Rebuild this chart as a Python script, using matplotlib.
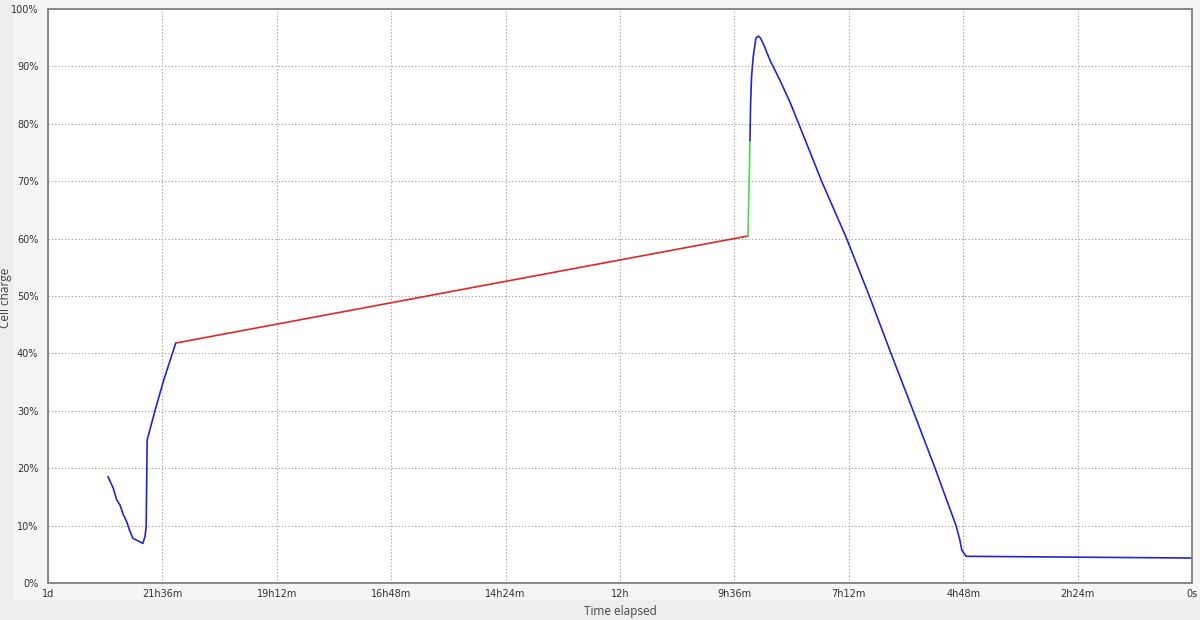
import matplotlib.pyplot as plt
from matplotlib.patches import Rectangle

# time before now (hours) and cell charge (%) for each segment
discharge1_h = [22.74, 22.63, 22.56, 22.49, 22.42, 22.35, 22.29, 22.22, 22.01, 21.965, 21.94, 21.92,
                21.75, 21.57, 21.32]
discharge1_pct = [18.5, 16.5, 14.5, 13.6, 11.9, 10.7, 9.2, 7.8, 6.9, 8.1, 9.8, 24.9,
                  30.2, 35.4, 41.8]

sleep_h = [21.32, 9.315]
sleep_pct = [41.8, 60.45]

charge_h = [9.315, 9.273]
charge_pct = [60.45, 77.1]

discharge2_h = [9.273, 9.26, 9.24, 9.205, 9.15, 9.10, 9.05, 8.98, 8.855, 8.645, 8.435, 8.25,
                7.77, 7.245, 6.77, 6.315, 5.85, 5.39, 4.95, 4.87, 4.83, 4.74, 0.0]
discharge2_pct = [77.1, 83.6, 88.2, 91.7, 94.9, 95.3, 94.9, 93.7, 91.1, 87.6, 83.8, 80.0,
                  70.0, 60.0, 50.0, 40.0, 30.0, 20.0, 10.0, 7.5, 5.75, 4.65, 4.35]

x_ticks = [24, 21.6, 19.2, 16.8, 14.4, 12, 9.6, 7.2, 4.8, 2.4, 0]
x_labels = ['1d', '21h36m', '19h12m', '16h48m', '14h24m', '12h', '9h36m', '7h12m', '4h48m', '2h24m', '0s']
y_ticks = [0, 10, 20, 30, 40, 50, 60, 70, 80, 90, 100]
y_labels = ['{}%'.format(v) for v in y_ticks]

fig = plt.figure(figsize=(12, 6.2), dpi=100, facecolor='#eeeeee')
# lighter panel behind the plot
fig.patches.append(Rectangle((14 / 1200, 20 / 620), 1 - 14 / 1200, 1 - 20 / 620,
                             transform=fig.transFigure, facecolor='#f5f5f5', edgecolor='none', zorder=-10))
ax = fig.add_axes([48 / 1200, 1 - 583 / 620, (1192 - 48) / 1200, (583 - 9) / 620])
ax.set_facecolor('white')

ax.plot(discharge1_h, discharge1_pct, color='#2525cc', lw=1.2)
ax.plot(sleep_h, sleep_pct, color='#dd2828', lw=1.2)
ax.plot(charge_h, charge_pct, color='#44dd44', lw=1.2)
ax.plot(discharge2_h, discharge2_pct, color='#2525cc', lw=1.2)

ax.set_xlim(24, 0)
ax.set_ylim(0, 100)
ax.set_xticks(x_ticks)
ax.set_xticklabels(x_labels)
ax.set_yticks(y_ticks)
ax.set_yticklabels(y_labels)
ax.tick_params(length=0, labelsize=7, colors='#333333')
ax.tick_params(axis='x', pad=4)
ax.tick_params(axis='y', pad=7)

ax.grid(True, linestyle=(0, (1, 2)), color='#999999', lw=0.8)
for s in ax.spines.values():
    s.set_color('#808080')
    s.set_linewidth(1.3)

ax.set_xlabel('Time elapsed', fontsize=8.5, family=['Open Sans', 'DejaVu Sans'], color='#444444', labelpad=5)
fig.text(6 / 1200, 0.52, 'Cell charge', rotation=90, fontsize=8.5, family=['Open Sans', 'DejaVu Sans'],
         color='#444444', ha='center', va='center')

fig.savefig('out.png', dpi=100, facecolor=fig.get_facecolor())
